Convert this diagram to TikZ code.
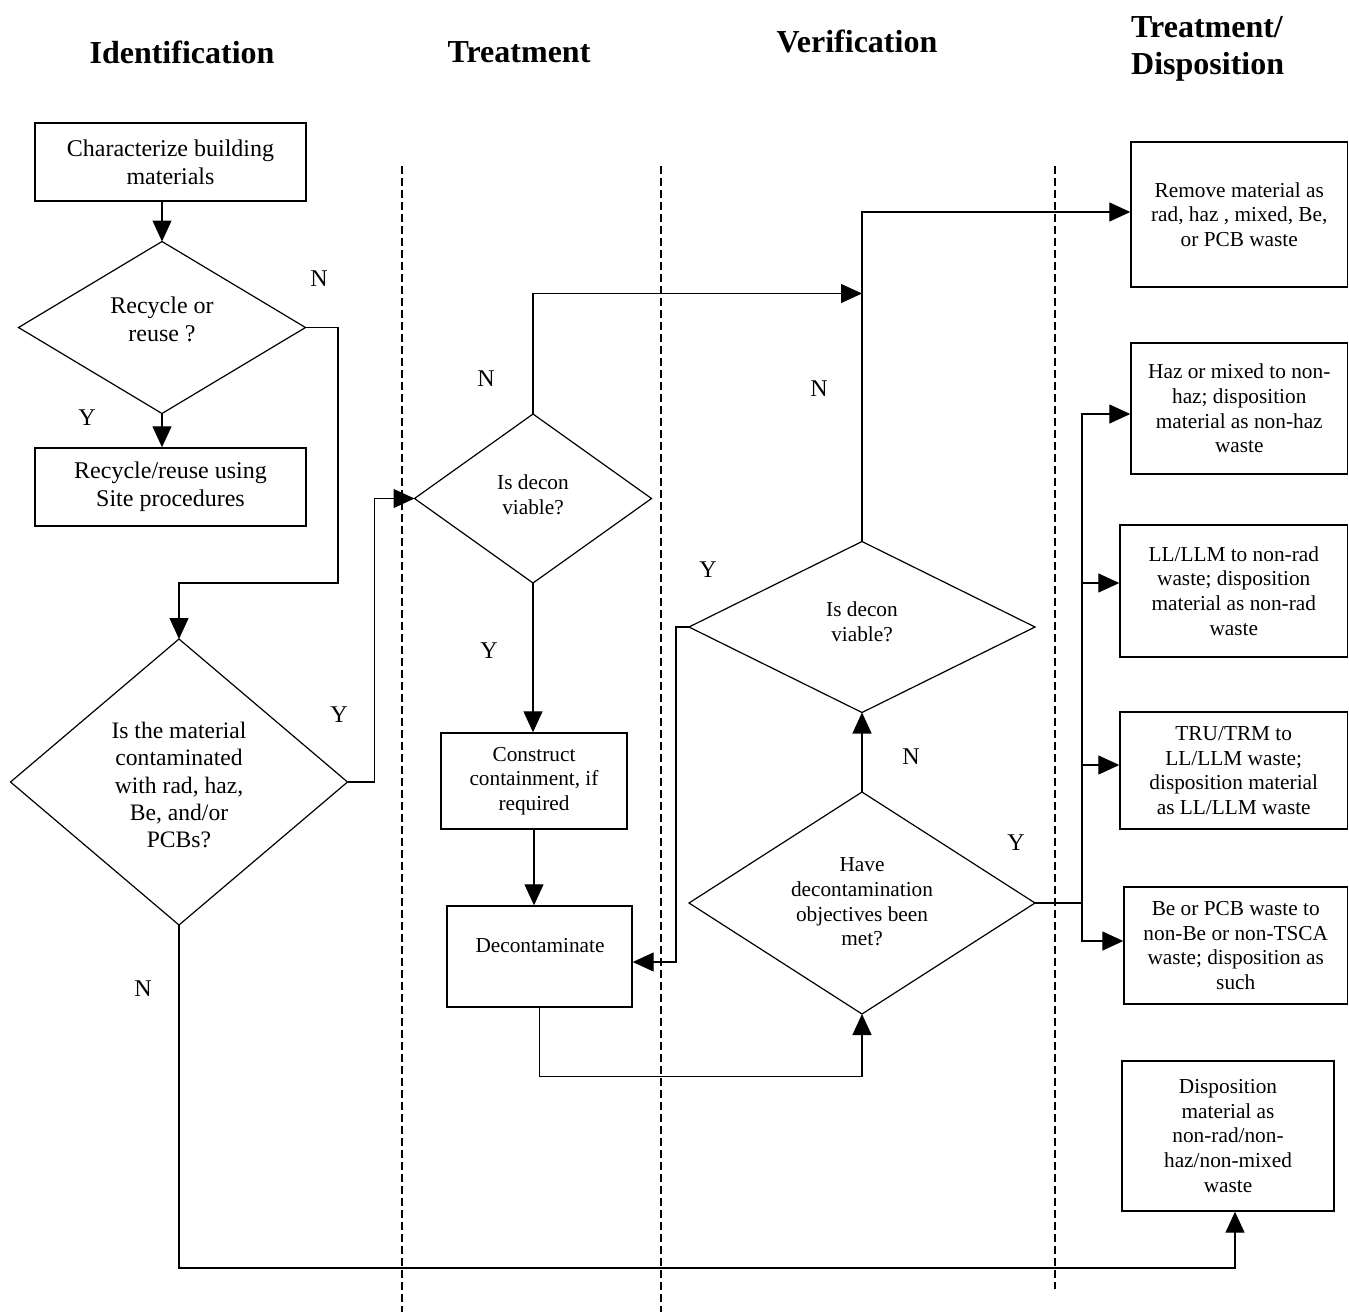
\documentclass[tikz,border=0pt]{standalone}
\usepackage{fontspec}
\setmainfont{Liberation Serif}
\usetikzlibrary{shapes.geometric,arrows.meta}

\newcommand\fontBody{\fontsize{24}{28}\selectfont}
\newcommand\fontQuery{\fontsize{23.6}{27.4}\selectfont}
\newcommand\fontNote{\fontsize{21.3}{24.6}\selectfont}
\newcommand\fontHead{\fontsize{32}{37}\selectfont\bfseries}

\begin{document}
\begin{tikzpicture}[x=1pt,y=-1pt,
  box/.style={draw, line width=1.4pt, align=center, inner sep=2pt},
  decision/.style={draw, shape=diamond, line width=1.2pt, inner sep=0pt, outer sep=0pt},
  txt/.style={align=center, inner sep=0pt},
  yn/.style={font=\fontBody, inner sep=0pt},
  head/.style={font=\fontHead, inner sep=0pt},
  link/.style={line width=1.3pt},
  arr/.style={link, -{Triangle[length=21pt,width=19pt]}},
  lane/.style={line width=1.2pt, dash pattern=on 8pt off 4pt}]

\useasboundingbox (0,0) rectangle (1349,1312);

% column headings
\node[head] (hId)  at (182,52)  {Identification};
\node[head] (hTr)  at (519,52)  {Treatment};
\node[head] (hVer) at (857,41)  {Verification};
\node[head, align=left, anchor=west] (hDis) at (1131,48.5) {Treatment/\\Disposition};

% lane separators
\draw[lane] (402,166) -- (402,1312);
\draw[lane] (661,166) -- (661,1312);
\draw[lane] (1055,166) -- (1055,1289);

% identification column
\node[box, font=\fontBody, minimum width=271pt, minimum height=78pt] (char) at (170.5,162)
  {Characterize building\\materials};
\node[decision, minimum width=287pt, minimum height=172pt] (d1) at (162,327.5) {};
\node[txt, font=\fontBody] (t1) at (162,319) {Recycle or\\reuse ?};
\node[box, font=\fontBody, minimum width=271pt, minimum height=78pt] (reuse) at (170.5,487)
  {Recycle/reuse using\\Site procedures};
\node[decision, minimum width=337pt, minimum height=286pt] (d2) at (179,782) {};
\node[txt, font=\fontQuery] (t2) at (179,785)
  {Is the material\\contaminated\\with rad, haz,\\Be, and/or\\PCBs?};

% treatment column
\node[decision, minimum width=237pt, minimum height=169pt] (d3) at (533,498.5) {};
\node[txt, font=\fontNote] (t3) at (533,494.5) {Is decon\\viable?};
\node[box, font=\fontNote, minimum width=186pt, minimum height=96pt] (constr) at (534,781)
  {Construct\\containment, if\\required};
\node[box, minimum width=185pt, minimum height=101pt] (decon) at (539.5,956.5) {};
\node[txt, font=\fontNote] (tdecon) at (540,946) {Decontaminate};

% verification column
\node[decision, minimum width=346pt, minimum height=171pt] (d4) at (862,627) {};
\node[txt, font=\fontNote] (t4) at (862,622) {Is decon\\viable?};
\node[decision, minimum width=346pt, minimum height=222pt] (d5) at (862,903) {};
\node[txt, font=\fontNote] (t5) at (862,902)
  {Have\\decontamination\\objectives been\\met?};

% treatment / disposition column
\node[box, font=\fontNote, minimum width=216.5pt, minimum height=145pt] (remove) at (1239.25,214.5)
  {Remove material as\\rad, haz , mixed, Be,\\or PCB waste};
\node[box, font=\fontNote, minimum width=216.5pt, minimum height=131pt] (haz) at (1239.25,408.5)
  {Haz or mixed to non-\\haz; disposition\\material as non-haz\\waste};
\node[box, font=\fontNote, minimum width=227.5pt, minimum height=132pt] (llm) at (1233.75,591)
  {LL/LLM to non-rad\\waste; disposition\\material as non-rad\\waste};
\node[box, font=\fontNote, minimum width=227.5pt, minimum height=117pt] (tru) at (1233.75,770.5)
  {TRU/TRM to\\LL/LLM waste;\\disposition material\\as LL/LLM waste};
\node[box, font=\fontNote, minimum width=223.5pt, minimum height=117pt] (be) at (1235.75,945.5)
  {Be or PCB waste to\\non-Be or non-TSCA\\waste; disposition as\\such};
\node[box, font=\fontNote, minimum width=212pt, minimum height=150pt] (disp) at (1228,1136)
  {Disposition\\material as\\non-rad/non-\\haz/non-mixed\\waste};

% bend points
\coordinate (k1) at (338,583);
\coordinate (j1) at (862,293.5);

% connectors
\draw[arr] (char.south -| d1.north) -- (d1.north);
\draw[arr] (d1.south) -- (d1.south |- reuse.north);
\draw[arr] (d1.east) -| (k1) -| (d2.north);
\draw[arr] (d2.east) -- ++(27,0) |- (d3.west);
\draw[arr] (d3.north) |- (j1);
\draw[arr] (d4.north) |- ([yshift=2.5pt]remove.west);
\draw[arr] (d3.south) -- (d3.south |- constr.north);
\draw[arr] (constr.south) -- (constr.south |- decon.north);
\draw[arr] (decon.south) -- ++(0,69) -| (d5.south);
\draw[arr] (d5.north) -- (d4.south);
\draw[arr] (d4.west) -- ++(-13,0) |- ([yshift=-5.5pt]decon.east);
\draw[link] (d5.east) -- ++(47,0) coordinate (bus);
\draw[arr] (bus) |- ([yshift=-5.5pt]haz.west);
\draw[arr] (bus) |- ([yshift=8pt]llm.west);
\draw[arr] (bus) |- ([yshift=5.5pt]tru.west);
\draw[arr] (bus) |- ([yshift=4.5pt]be.west);
\draw[arr] (d2.south) -- ++(0,343) -| ([xshift=7pt]disp.south);

% branch labels
\node[yn] (n1) at (319,279) {N};
\node[yn] (y1) at (87,418)  {Y};
\node[yn] (y2) at (339,715) {Y};
\node[yn] (n2) at (143,989) {N};
\node[yn] (n3) at (486,379) {N};
\node[yn] (y3) at (489,651) {Y};
\node[yn] (n4) at (819,389) {N};
\node[yn] (y4) at (708,570) {Y};
\node[yn] (n5) at (911,757) {N};
\node[yn] (y5) at (1016,843) {Y};

\end{tikzpicture}
\end{document}
